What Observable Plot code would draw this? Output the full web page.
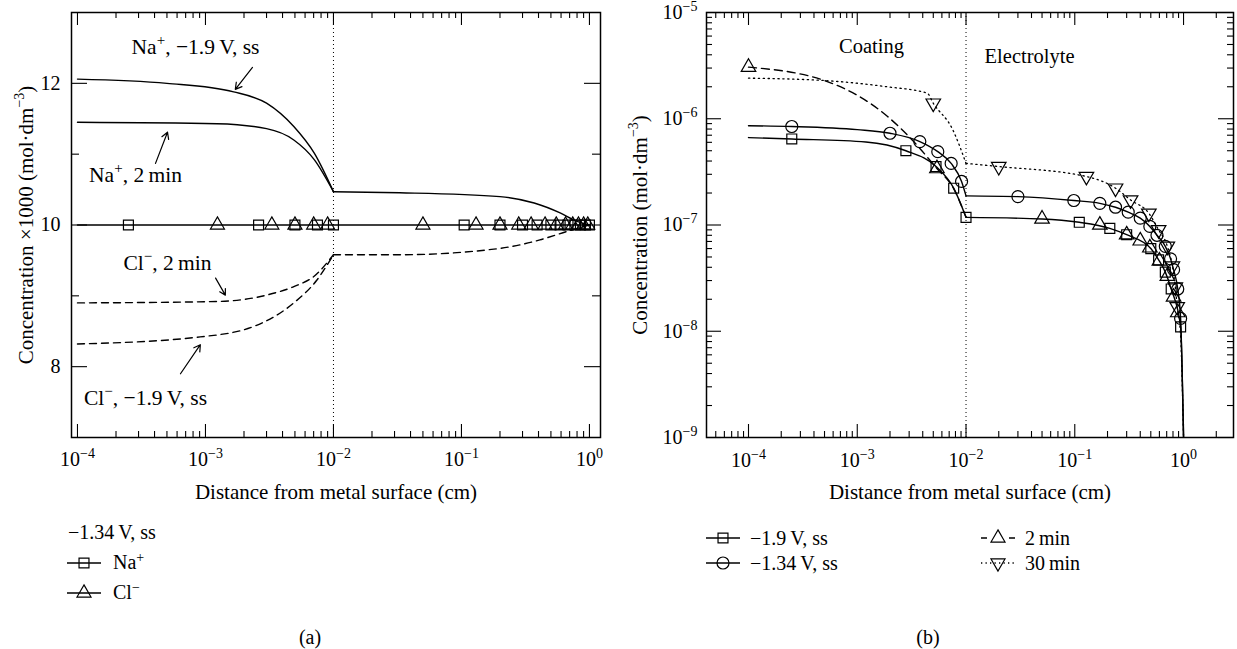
<!DOCTYPE html>
<html><head><meta charset="utf-8">
<script src="https://cdn.jsdelivr.net/npm/d3@7"></script>
<script src="https://cdn.jsdelivr.net/npm/@observablehq/plot@0.6"></script>
<style>
body{margin:0;background:#fff;font-family:"Liberation Serif",serif;color:#000;}
#wrap{position:relative;width:1237px;height:649px;overflow:hidden;background:#fff;}
.lab{position:absolute;white-space:nowrap;font-size:20px;line-height:26px;height:26px;display:flex;align-items:center;}
.sup{font-size:70%;position:relative;top:-0.5em;}
</style></head><body><div id="wrap"></div>
<script>
// ---------------- Panel (a) data ----------------
const boundaryX = [1e-2];
const aNaSS_x = [1e-4, 5e-4, 1.66e-3, 3.0e-3, 4.9e-3, 7.1e-3, 1e-2, 0.033, 0.2, 0.37, 0.59, 0.8, 1.0];
const aNaSS_y = [12.06, 12.0, 11.88, 11.72, 11.39, 11.01, 10.47, 10.455, 10.40, 10.31, 10.17, 10.05, 10.0];
const aNa2_x = [1e-4, 1.23e-3, 3.0e-3, 4.9e-3, 7.1e-3, 1e-2];
const aNa2_y = [11.45, 11.43, 11.36, 11.20, 10.92, 10.47];
const aClSS_x = [1e-4, 9.1e-4, 2.4e-3, 4.9e-3, 7.4e-3, 1e-2, 0.033, 0.2, 0.41, 0.67, 1.0];
const aClSS_y = [8.32, 8.42, 8.57, 8.90, 9.22, 9.58, 9.58, 9.67, 9.79, 9.91, 10.0];
const aCl2_x = [1e-4, 1.23e-3, 3.0e-3, 4.9e-3, 7.1e-3, 1e-2];
const aCl2_y = [8.90, 8.92, 9.01, 9.13, 9.28, 9.58];
const aFlat_x = [1e-4, 1.0];
const aFlat_y = [10, 10];
const aNaMark_x = [2.5e-4, 2.6e-3, 5e-3, 7.5e-3, 1e-2, 0.105, 0.2, 0.3, 0.39, 0.5, 0.59, 0.68, 0.77, 0.85, 0.93, 1.0];
const aNaMark_y = [10, 10, 10, 10, 10, 10, 10, 10, 10, 10, 10, 10, 10, 10, 10, 10];
const aClMark_x = [1.24e-3, 3.3e-3, 5e-3, 7e-3, 9e-3, 0.05, 0.13, 0.2, 0.28, 0.35, 0.45, 0.55, 0.65, 0.74, 0.82, 0.9, 0.97];
const aClMark_y = [10, 10, 10, 10, 10, 10, 10, 10, 10, 10, 10, 10, 10, 10, 10, 10, 10];
const aXMajor = [1e-4, 1e-3, 1e-2, 1e-1, 1];
const aXExp = ["−4", "−3", "−2", "−1", "0"];
const aYMajor = [8, 10, 12];
const aYMinor = [9, 11];
const aNoteText = ["Na^{+}, −1.9\u2009V, ss", "Na^{+}, 2\u2009min", "Cl^{−}, 2\u2009min", "Cl^{−}, −1.9\u2009V, ss"];
const aNoteX = [8.36e-4, 2.84e-4, 5.05e-4, 3.4e-4];
const aNoteY = [12.507, 10.70, 9.465, 7.56];
const aArrowX1 = [2.33e-3, 4.07e-4, 1.2e-3, 6.38e-4];
const aArrowY1 = [12.225, 10.87, 9.25, 7.90];
const aArrowX2 = [1.71e-3, 5.05e-4, 1.43e-3, 9.12e-4];
const aArrowY2 = [11.915, 11.31, 9.01, 8.31];

// ---------------- Panel (b) data ----------------
const bA_x = [1e-4, 2.5e-4, 1.2e-3, 2.8e-3, 5.3e-3, 7.7e-3, 1e-2, 0.05, 0.11, 0.21, 0.30, 0.5, 0.59, 0.68, 0.77, 0.94, 1.0];
const bA_y = [6.65e-7, 6.45e-7, 6.05e-7, 5.0e-7, 3.55e-7, 2.22e-7, 1.18e-7, 1.14e-7, 1.06e-7, 9.3e-8, 8.1e-8, 6.0e-8, 4.7e-8, 3.6e-8, 2.5e-8, 1.1e-8, 1e-9];
const bAMark_x = [2.5e-4, 2.8e-3, 5.3e-3, 7.7e-3, 1e-2, 0.11, 0.21, 0.30, 0.5, 0.59, 0.68, 0.77, 0.94];
const bAMark_y = [6.45e-7, 5.0e-7, 3.55e-7, 2.22e-7, 1.18e-7, 1.06e-7, 9.3e-8, 8.1e-8, 6.0e-8, 4.7e-8, 3.6e-8, 2.5e-8, 1.1e-8];
const bB_x = [1e-4, 2.5e-4, 1e-3, 2e-3, 3.76e-3, 5.5e-3, 7.3e-3, 9.1e-3, 1e-2, 0.03, 0.098, 0.17, 0.237, 0.31, 0.4, 0.49, 0.57, 0.68, 0.76, 0.81, 0.885, 0.94, 1.0];
const bB_y = [8.6e-7, 8.45e-7, 7.9e-7, 7.3e-7, 6.1e-7, 4.9e-7, 3.8e-7, 2.57e-7, 1.88e-7, 1.85e-7, 1.7e-7, 1.6e-7, 1.47e-7, 1.32e-7, 1.16e-7, 9.7e-8, 8.0e-8, 6.3e-8, 4.8e-8, 3.8e-8, 2.5e-8, 1.32e-8, 1e-9];
const bBMark_x = [2.5e-4, 2e-3, 3.76e-3, 5.5e-3, 7.3e-3, 9.1e-3, 0.03, 0.098, 0.17, 0.237, 0.31, 0.4, 0.49, 0.57, 0.68, 0.76, 0.81, 0.885, 0.94];
const bBMark_y = [8.45e-7, 7.3e-7, 6.1e-7, 4.9e-7, 3.8e-7, 2.57e-7, 1.85e-7, 1.7e-7, 1.6e-7, 1.47e-7, 1.32e-7, 1.16e-7, 9.7e-8, 8.0e-8, 6.3e-8, 4.8e-8, 3.8e-8, 2.5e-8, 1.32e-8];
const bC_x = [1e-4, 5.3e-4, 1.9e-3, 3.3e-3, 5.4e-3, 7.7e-3, 1e-2];
const bC_y = [3.06e-6, 2.24e-6, 1.05e-6, 6.1e-7, 3.4e-7, 2.2e-7, 1.18e-7];
const bCMark_x = [1e-4, 5.4e-3, 0.05, 0.17, 0.30, 0.40, 0.49, 0.60, 0.71, 0.81, 0.885];
const bCMark_y = [3.06e-6, 3.4e-7, 1.14e-7, 1.0e-7, 8.1e-8, 7.1e-8, 6.1e-8, 4.6e-8, 3.3e-8, 2.1e-8, 1.5e-8];
const bD_x = [1e-4, 5.3e-4, 1.88e-3, 4.4e-3, 5e-3, 7.5e-3, 1e-2, 0.02, 0.128, 0.237, 0.326, 0.48, 0.59, 0.71, 0.79, 0.84, 0.875, 0.94, 1.0];
const bD_y = [2.41e-6, 2.28e-6, 2.0e-6, 1.74e-6, 1.4e-6, 8.0e-7, 3.8e-7, 3.55e-7, 2.86e-7, 2.22e-7, 1.72e-7, 1.29e-7, 9e-8, 6.3e-8, 4.1e-8, 2.6e-8, 1.7e-8, 9e-9, 1e-9];
const bDMark_x = [5e-3, 0.02, 0.128, 0.237, 0.326, 0.48, 0.59, 0.71, 0.79, 0.84, 0.875];
const bDMark_y = [1.4e-6, 3.55e-7, 2.86e-7, 2.22e-7, 1.72e-7, 1.29e-7, 9e-8, 6.3e-8, 4.1e-8, 2.6e-8, 1.7e-8];
const bXMajor = [1e-4, 1e-3, 1e-2, 1e-1, 1];
const bXExp = ["−4", "−3", "−2", "−1", "0"];
const bYMajor = [1e-9, 1e-8, 1e-7, 1e-6, 1e-5];
const bYExp = ["−9", "−8", "−7", "−6", "−5"];
const bNoteText = ["Coating", "Electrolyte"];
const bNoteX = [1.35e-3, 0.0384];
const bNoteY = [4.75e-6, 3.83e-6];

// ---------------- helpers ----------------
const FONT = "'Liberation Serif', 'Times New Roman', serif";
const B = boundaryX[0];
function rows(xs, ys, split) {
  const out = [];
  xs.forEach((x, i) => {
    if (!split) { out.push({x, y: ys[i], seg: 0}); return; }
    if (x <= B) out.push({x, y: ys[i], seg: 0});
    if (x >= B) out.push({x, y: ys[i], seg: 1});
  });
  return out;
}
function pts(xs, ys) { return xs.map((x, i) => ({x, y: ys[i]})); }
function logMinors(lo, hi, domain) {
  const out = [];
  for (let e = lo; e <= hi; e++) for (let k = 2; k <= 9; k++) {
    const v = k * Math.pow(10, e);
    if (v > domain[0] && v < domain[1]) out.push(v);
  }
  return out;
}
const triDown = {
  draw(context, size) {
    const y = Math.sqrt(size / (Math.sqrt(3) * 3));
    context.moveTo(0, 2 * y);
    context.lineTo(-Math.sqrt(3) * y, -y);
    context.lineTo(Math.sqrt(3) * y, -y);
    context.closePath();
  }
};
function applySup(root) {
  d3.select(root).selectAll("text").each(function () {
    const t = this.textContent;
    if (!t.includes("^{")) return;
    const fs = parseFloat(getComputedStyle(this).fontSize) || 20;
    const sh = Math.round(fs * 0.42);
    const parts = t.split(/(\^\{[^}]*\})/);
    this.textContent = "";
    let raised = false;
    for (const p of parts) {
      if (!p) continue;
      const ts = d3.select(this).append("tspan");
      if (p.startsWith("^{")) {
        ts.text(p.slice(2, -1)).attr("font-size", Math.round(fs * 0.68)).attr("dy", -sh);
        raised = true;
      } else {
        ts.text(p);
        if (raised) { ts.attr("dy", sh); raised = false; }
      }
    }
  });
}
function frameTicks(xMaj, xMin, yMaj, yMin, fw, fh, xl, xs, yl, ys) {
  const st = {stroke: "#000", strokeWidth: 1.1};
  return [
    Plot.tickX(xMaj, {x: d => d, insetTop: fh - xl, ...st}),
    Plot.tickX(xMaj, {x: d => d, insetBottom: fh - xl, ...st}),
    Plot.tickX(xMin, {x: d => d, insetTop: fh - xs, ...st}),
    Plot.tickX(xMin, {x: d => d, insetBottom: fh - xs, ...st}),
    Plot.tickY(yMaj, {y: d => d, insetRight: fw - yl, ...st}),
    Plot.tickY(yMaj, {y: d => d, insetLeft: fw - yl, ...st}),
    Plot.tickY(yMin, {y: d => d, insetRight: fw - ys, ...st}),
    Plot.tickY(yMin, {y: d => d, insetLeft: fw - ys, ...st})
  ];
}
const wrap = document.getElementById("wrap");

// ---------------- Panel (a) ----------------
(function () {
  const W = 615, H = 510, mL = 71, mR = 15, mT = 12, mB = 73;
  const fw = W - mL - mR, fh = H - mT - mB;
  const xDom = [8.98e-5, 1.22];
  const lw = 1.4;
  const svg = Plot.plot({
    width: W, height: H, marginLeft: mL, marginRight: mR, marginTop: mT, marginBottom: mB,
    x: {type: "log", domain: xDom, axis: null},
    y: {domain: [7, 13], axis: null},
    style: {fontFamily: FONT, background: "transparent", overflow: "visible"},
    marks: [
      Plot.ruleX(boundaryX, {x: d => d, stroke: "#000", strokeWidth: 1, strokeDasharray: "1,3"}),
      Plot.line(rows(aNaSS_x, aNaSS_y, true), {x: "x", y: "y", z: "seg", curve: "monotone-x", stroke: "#000", strokeWidth: lw}),
      Plot.line(rows(aNa2_x, aNa2_y, true), {x: "x", y: "y", z: "seg", curve: "monotone-x", stroke: "#000", strokeWidth: lw}),
      Plot.line(rows(aClSS_x, aClSS_y, true), {x: "x", y: "y", z: "seg", curve: "monotone-x", stroke: "#000", strokeWidth: lw, strokeDasharray: "7,5"}),
      Plot.line(rows(aCl2_x, aCl2_y, true), {x: "x", y: "y", z: "seg", curve: "monotone-x", stroke: "#000", strokeWidth: lw, strokeDasharray: "7,5"}),
      Plot.line(rows(aFlat_x, aFlat_y, false), {x: "x", y: "y", stroke: "#000", strokeWidth: lw}),
      Plot.dot(pts(aNaMark_x, aNaMark_y), {x: "x", y: "y", symbol: "square", r: 5.6, stroke: "#000", fill: "none", strokeWidth: 1.2}),
      Plot.dot(pts(aClMark_x, aClMark_y), {x: "x", y: "y", symbol: "triangle", r: 5.2, stroke: "#000", fill: "none", strokeWidth: 1.2}),
      Plot.arrow(aArrowX1.map((x, i) => ({x1: x, y1: aArrowY1[i], x2: aArrowX2[i], y2: aArrowY2[i]})),
        {x1: "x1", y1: "y1", x2: "x2", y2: "y2", stroke: "#000", strokeWidth: 1.2, headLength: 9}),
      Plot.text(aNoteText.map((t, i) => ({t, x: aNoteX[i], y: aNoteY[i]})), {x: "x", y: "y", text: "t", fontSize: 21.5, fill: "#000"}),
      ...frameTicks(aXMajor, logMinors(-4, -1, xDom), aYMajor, aYMinor, fw, fh, 13, 6, 16, 8),
      Plot.frame({stroke: "#000", strokeWidth: 1.5}),
      Plot.text(aXMajor, {x: d => d, text: (d, i) => "10^{" + aXExp[i] + "}", frameAnchor: "bottom", dy: 22, lineAnchor: "middle", fontSize: 20, fill: "#000"}),
      Plot.text(aYMajor, {y: d => d, text: d => String(d), frameAnchor: "left", textAnchor: "end", dx: -11, fontSize: 20, fill: "#000"}),
      Plot.text(["Distance from metal surface (cm)"], {text: d => d, frameAnchor: "bottom", dy: 55, lineAnchor: "middle", fontSize: 21, fill: "#000"}),
      Plot.text(["Concentration ×1000 (mol·dm^{−3})"], {text: d => d, frameAnchor: "left", textAnchor: "middle", rotate: -90, dx: -45, lineAnchor: "middle", fontSize: 21, fill: "#000"})
    ]
  });
  Object.assign(svg.style, {position: "absolute", left: "0px", top: "0px"});
  wrap.appendChild(svg);
  applySup(svg);
})();

// ---------------- Panel (b) ----------------
(function () {
  const W = 622, H = 510, mL = 91, mR = 4, mT = 12, mB = 73;
  const fw = W - mL - mR, fh = H - mT - mB;
  const xDom = [4.11e-5, 2.88];
  const yDom = [1e-9, 1e-5];
  const lw = 1.4;
  const svg = Plot.plot({
    width: W, height: H, marginLeft: mL, marginRight: mR, marginTop: mT, marginBottom: mB,
    x: {type: "log", domain: xDom, axis: null},
    y: {type: "log", domain: yDom, axis: null},
    style: {fontFamily: FONT, background: "transparent", overflow: "visible"},
    marks: [
      Plot.ruleX(boundaryX, {x: d => d, stroke: "#000", strokeWidth: 1, strokeDasharray: "1,3"}),
      Plot.line(rows(bA_x, bA_y, true), {x: "x", y: "y", z: "seg", curve: "monotone-x", stroke: "#000", strokeWidth: lw, clip: true}),
      Plot.line(rows(bB_x, bB_y, true), {x: "x", y: "y", z: "seg", curve: "monotone-x", stroke: "#000", strokeWidth: lw, clip: true}),
      Plot.line(rows(bC_x, bC_y, true), {x: "x", y: "y", z: "seg", curve: "monotone-x", stroke: "#000", strokeWidth: lw, strokeDasharray: "8,5", clip: true}),
      Plot.line(rows(bD_x, bD_y, true), {x: "x", y: "y", z: "seg", curve: "monotone-x", stroke: "#000", strokeWidth: 1.3, strokeDasharray: "1.3,3.6", clip: true}),
      Plot.dot(pts(bAMark_x, bAMark_y), {x: "x", y: "y", symbol: "square", r: 5.6, stroke: "#000", fill: "none", strokeWidth: 1.2}),
      Plot.dot(pts(bBMark_x, bBMark_y), {x: "x", y: "y", symbol: "circle", r: 6, stroke: "#000", fill: "none", strokeWidth: 1.2}),
      Plot.dot(pts(bCMark_x, bCMark_y), {x: "x", y: "y", symbol: "triangle", r: 5.4, stroke: "#000", fill: "none", strokeWidth: 1.2}),
      Plot.dot(pts(bDMark_x, bDMark_y), {x: "x", y: "y", symbol: triDown, r: 5.4, stroke: "#000", fill: "none", strokeWidth: 1.2}),
      Plot.text(bNoteText.map((t, i) => ({t, x: bNoteX[i], y: bNoteY[i]})), {x: "x", y: "y", text: "t", fontSize: 20.5, fill: "#000"}),
      ...frameTicks(bXMajor, logMinors(-5, 0, xDom), bYMajor, logMinors(-9, -6, yDom), fw, fh, 13, 6, 15, 6),
      Plot.frame({stroke: "#000", strokeWidth: 1.5}),
      Plot.text(bXMajor, {x: d => d, text: (d, i) => "10^{" + bXExp[i] + "}", frameAnchor: "bottom", dy: 23, lineAnchor: "middle", fontSize: 20, fill: "#000"}),
      Plot.text(bYMajor, {y: d => d, text: (d, i) => "10^{" + bYExp[i] + "}", frameAnchor: "left", textAnchor: "end", dx: -9, fontSize: 20, fill: "#000"}),
      Plot.text(["Distance from metal surface (cm)"], {text: d => d, frameAnchor: "bottom", dy: 55, lineAnchor: "middle", fontSize: 21, fill: "#000"}),
      Plot.text(["Concentration (mol·dm^{−3})"], {text: d => d, frameAnchor: "left", textAnchor: "middle", rotate: -90, dx: -66, lineAnchor: "middle", fontSize: 21, fill: "#000"})
    ]
  });
  Object.assign(svg.style, {position: "absolute", left: "615px", top: "0px"});
  wrap.appendChild(svg);
  applySup(svg);
})();

// ---------------- Legends & captions (HTML below the plots) ----------------
function legendRow(left, cy, symbol, r, dash, gap, html) {
  const row = d3.select(wrap).append("div").attr("class", "lab")
    .style("left", left + "px").style("top", (cy - 13) + "px");
  if (symbol) {
    const s = row.append("svg").attr("width", 34).attr("height", 26).style("margin-right", gap + "px").style("overflow", "visible");
    s.append("line").attr("x1", 0).attr("x2", 34).attr("y1", 13).attr("y2", 13)
      .attr("stroke", "#000").attr("stroke-width", 1.3).attr("stroke-dasharray", dash);
    s.append("path").attr("transform", "translate(17,13)")
      .attr("d", d3.symbol(symbol, Math.PI * r * r)())
      .attr("fill", "none").attr("stroke", "#000").attr("stroke-width", 1.2);
  }
  row.append("span").html(html);
}
legendRow(68, 532, null, 0, null, 0, "−1.34\u2009V, ss");
legendRow(67, 563, d3.symbolSquare, 5.6, null, 12, "Na<span class='sup'>+</span>");
legendRow(67, 593, d3.symbolTriangle, 5.2, null, 12, "Cl<span class='sup'>−</span>");
legendRow(706, 538, d3.symbolSquare, 5.6, null, 10, "−1.9\u2009V, ss");
legendRow(706, 563, d3.symbolCircle, 6, null, 10, "−1.34\u2009V, ss");
legendRow(981, 538, d3.symbolTriangle, 5.2, "6,22,6", 10, "2\u2009min");
legendRow(981, 563, triDown, 5.2, "1.3,3.2", 10, "30\u2009min");
function caption(cx, cy, text) {
  d3.select(wrap).append("div").attr("class", "lab")
    .style("left", (cx - 50) + "px").style("width", "100px").style("justify-content", "center")
    .style("top", (cy - 13) + "px").text(text);
}
caption(310, 637, "(a)");
caption(928, 637, "(b)");
</script></body></html>
